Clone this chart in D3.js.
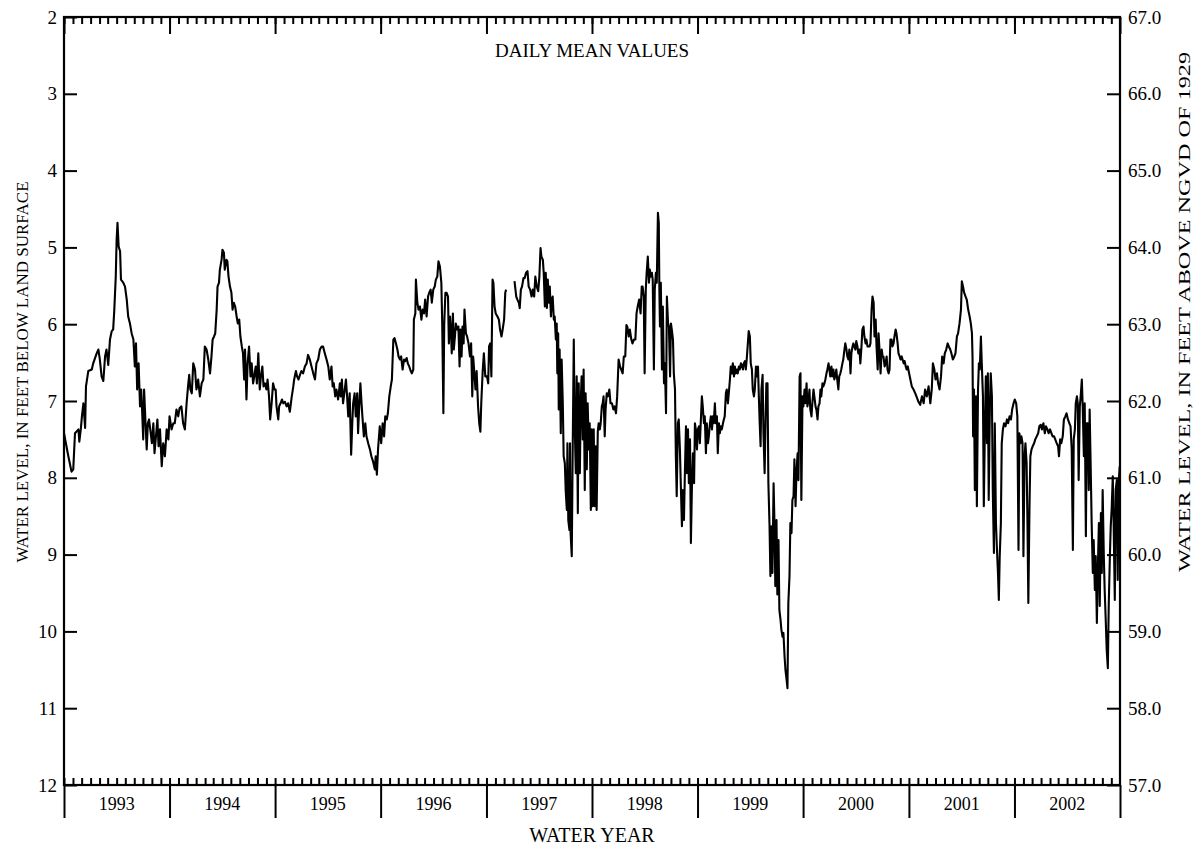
<!DOCTYPE html>
<html>
<head>
<meta charset="utf-8">
<script src="https://cdn.jsdelivr.net/npm/d3@7"></script>
<style>
  body { margin: 0; background: #fff; }
  svg { display: block; }
  text { font-family: "Liberation Serif", "Times New Roman", serif; fill: #000; }
</style>
</head>
<body>
<svg id="chart" width="1196" height="849"></svg>
<script>
// Water years shown on the horizontal axis (each runs Oct 1 - Sep 30)
const waterYears = [1993, 1994, 1995, 1996, 1997, 1998, 1999, 2000, 2001, 2002];
// Depth to water, feet below land surface (left axis)
const depthTicks = [2, 3, 4, 5, 6, 7, 8, 9, 10, 11, 12];
// Altitude of water level, feet above NGVD of 1929 (right axis)
const altitudeTicks = [67, 66, 65, 64, 63, 62, 61, 60, 59, 58, 57];
const landSurfaceAltitude = 69.0;

// Daily mean depth to water: [day of water year, feet below land surface]
// null marks a break in the record
const wy1993 = [[0,7.42],[15,7.72],[26,7.92],[32,7.89],[38,7.42],[50,7.37],[53,7.53],[58,7.37],[62,7.20],[67,7.03],[73,7.35],[76,6.81],[84,6.61],[96,6.59],[101,6.51],[113,6.38],[119,6.33],[124,6.46],[130,6.68],[136,6.74],[142,6.42],[147,6.33],[153,6.53],[159,6.20],[165,6.09],[170,6.07],[174,5.81],[179,5.38],[182,4.90],[185,4.68],[189,4.99],[194,5.05],[197,5.42],[205,5.46],[211,5.51],[217,5.68],[222,5.90],[228,5.99],[234,6.12],[240,6.20],[245,6.55],[249,6.25],[253,6.85],[258,6.51],[263,7.07],[267,6.85],[270,7.11],[274,7.50],[277,6.85],[282,7.29],[286,7.63],[290,7.29],[294,7.24],[300,7.42],[304,7.55],[309,7.29],[313,7.68],[318,7.46],[323,7.24],[327,7.59],[332,7.37],[338,7.85],[343,7.55],[349,7.72],[355,7.37],[361,7.50]];
const wy1994 = [[0,7.20],[7,7.37],[13,7.29],[18,7.29],[24,7.11],[30,7.20],[35,7.09],[41,7.07],[47,7.29],[53,7.37],[59,7.03],[64,6.81],[68,6.66],[72,6.85],[77,6.90],[82,6.51],[88,6.59],[93,6.85],[99,6.72],[105,6.94],[111,6.77],[117,6.72],[122,6.29],[128,6.33],[134,6.46],[140,6.64],[145,6.42],[149,6.20],[154,6.16],[158,6.12],[163,5.81],[166,5.51],[171,5.46],[174,5.29],[180,5.16],[183,5.03],[188,5.07],[191,5.29],[197,5.16],[200,5.18],[204,5.38],[209,5.51],[214,5.59],[218,5.81],[222,5.72],[227,5.77],[232,5.90],[236,5.99],[241,5.94],[245,6.16],[250,6.29],[254,6.38],[258,6.72],[261,6.33],[266,6.98],[270,6.51],[275,6.29],[280,6.68],[284,6.51],[289,6.77],[293,6.68],[298,6.55],[302,6.77],[307,6.38],[312,6.85],[316,6.68],[321,6.55],[325,6.81],[330,6.77],[335,6.85],[339,6.72],[344,6.94],[348,7.24],[353,7.03],[358,6.77],[363,6.85]];
const wy1995 = [[2,6.85],[5,7.07],[11,7.24],[14,7.07],[19,7.03],[24,6.98],[28,7.03],[34,7.01],[40,7.07],[45,7.03],[51,7.14],[57,6.96],[63,6.81],[66,6.72],[72,6.61],[76,6.68],[81,6.72],[86,6.66],[91,6.61],[97,6.64],[103,6.55],[109,6.51],[114,6.40],[120,6.46],[126,6.55],[132,6.64],[138,6.72],[143,6.51],[149,6.46],[155,6.33],[161,6.29],[166,6.29],[172,6.38],[178,6.46],[184,6.55],[189,6.72],[195,6.55],[199,6.81],[203,6.77],[208,6.94],[212,6.85],[218,6.98],[224,6.77],[227,6.94],[231,6.72],[235,7.03],[241,6.85],[245,6.72],[249,6.94],[253,7.20],[258,6.90],[263,7.70],[267,7.29],[270,7.03],[275,6.90],[279,7.20],[284,6.90],[287,7.42],[291,7.07],[295,6.77],[299,7.03],[302,7.20],[307,7.46],[312,7.29],[316,7.46],[322,7.55],[328,7.63],[333,7.72],[339,7.79],[345,7.89],[348,7.72],[352,7.96],[356,7.63],[362,7.33]];
const wy1996 = [[2,7.55],[7,7.29],[12,7.46],[16,7.20],[21,7.24],[25,7.16],[30,6.94],[35,6.81],[39,6.72],[44,6.20],[48,6.18],[53,6.25],[58,6.33],[62,6.42],[67,6.46],[71,6.42],[76,6.59],[81,6.46],[85,6.48],[90,6.44],[94,6.51],[99,6.55],[104,6.61],[108,6.64],[113,6.59],[115,5.94],[120,5.86],[122,5.42],[127,5.72],[131,5.81],[136,5.77],[141,5.94],[145,5.81],[150,5.86],[154,5.68],[159,5.90],[164,5.64],[168,5.59],[173,5.55],[177,5.72],[182,5.55],[187,5.51],[191,5.42],[196,5.38],[200,5.18],[205,5.25],[210,5.46],[213,5.99],[217,7.16],[220,5.99],[224,5.59],[228,5.59],[233,5.64],[236,6.25],[240,5.90],[243,6.07],[246,6.38],[250,5.86],[253,6.33],[257,6.16],[260,5.99],[265,6.07],[269,6.03],[273,6.55],[276,6.07],[280,6.42],[283,6.03],[287,6.25],[290,5.81],[295,6.12],[299,6.16],[304,6.25],[309,6.42],[313,6.25],[317,6.94],[320,6.42],[325,6.68],[328,6.85],[332,6.61],[337,7.07],[341,7.29],[345,7.40],[348,7.03],[353,6.61],[357,6.38],[362,6.68]];
const wy1997 = [[2,6.68],[6,6.77],[9,6.29],[13,6.25],[17,6.68],[21,5.42],[24,5.46],[28,5.77],[32,5.86],[38,5.90],[43,5.94],[47,6.07],[52,6.16],[56,6.07],[61,5.94],[65,5.59],[68,5.55],[82,null],[97,5.44],[103,5.64],[107,5.68],[112,5.72],[115,5.79],[119,5.55],[123,5.51],[128,5.40],[132,5.40],[137,5.33],[142,5.31],[146,5.51],[151,5.55],[156,5.64],[160,5.55],[165,5.64],[169,5.38],[174,5.51],[179,5.57],[183,5.38],[187,5.01],[190,5.12],[195,5.16],[198,5.33],[202,5.77],[205,5.33],[209,5.79],[212,5.42],[216,5.72],[219,5.51],[223,5.90],[226,5.68],[229,5.64],[233,5.94],[236,5.90],[240,6.20],[243,5.99],[245,6.64],[248,6.12],[250,7.11],[253,6.33],[257,7.42],[260,6.46],[264,7.03],[267,7.72],[271,7.81],[274,8.16],[278,8.42],[280,7.55],[283,8.55],[287,8.68],[289,7.55],[291,8.72],[295,9.02],[298,7.72],[302,6.20],[305,7.29],[309,7.94],[312,6.68],[316,8.46],[319,6.77],[323,7.94],[326,7.03],[329,6.68],[333,7.50],[336,6.59],[340,8.16],[343,6.90],[347,7.89],[350,7.03],[354,7.63],[357,7.29],[361,8.42],[364,7.37]];
const wy1998 = [[2,8.37],[6,7.37],[9,8.37],[13,7.59],[16,8.42],[20,7.40],[23,7.29],[27,7.37],[30,7.29],[34,7.07],[37,7.03],[40,6.94],[44,7.46],[47,7.11],[51,6.90],[55,6.94],[60,6.85],[64,7.03],[69,7.03],[74,7.11],[78,7.07],[83,7.16],[87,6.94],[92,6.46],[97,6.55],[101,6.59],[106,6.64],[110,6.42],[115,6.42],[119,6.01],[122,6.03],[127,6.16],[131,6.07],[136,6.20],[140,6.25],[145,6.20],[150,6.20],[154,5.86],[158,5.77],[163,5.68],[168,5.86],[172,5.51],[175,5.51],[179,5.64],[182,6.64],[186,5.55],[189,5.33],[193,5.12],[197,5.46],[200,5.29],[203,5.38],[207,5.33],[210,5.42],[214,6.59],[217,5.55],[221,5.33],[224,5.46],[228,4.55],[231,4.68],[233,5.55],[235,6.03],[238,5.46],[242,6.59],[245,5.77],[249,6.77],[252,6.51],[256,7.16],[259,5.64],[263,5.99],[266,6.03],[270,6.68],[273,5.99],[276,6.07],[280,6.20],[283,6.64],[287,6.85],[290,7.72],[293,8.24],[297,7.29],[300,7.24],[304,7.63],[307,8.07],[311,8.63],[314,8.16],[318,8.55],[321,7.98],[325,7.33],[328,7.94],[332,7.37],[335,8.07],[339,7.50],[342,8.85],[346,8.03],[349,7.68],[353,8.07],[356,7.29],[359,7.37],[363,7.63]];
const wy1999 = [[1,7.37],[5,7.33],[8,7.55],[12,7.20],[15,6.94],[18,7.07],[22,7.29],[25,7.20],[29,7.68],[32,7.29],[36,7.55],[39,7.46],[43,7.29],[46,7.20],[50,7.37],[53,7.20],[56,7.29],[60,7.03],[63,7.29],[67,7.20],[70,7.68],[74,7.29],[77,7.42],[81,7.33],[84,7.37],[88,7.29],[91,7.24],[94,7.20],[98,6.90],[101,6.85],[105,7.03],[108,6.90],[112,6.72],[115,6.55],[119,6.64],[122,6.51],[126,6.68],[129,6.55],[132,6.64],[136,6.59],[139,6.64],[143,6.55],[146,6.59],[150,6.51],[153,6.53],[157,6.59],[160,6.51],[164,6.48],[167,6.59],[170,6.46],[174,6.25],[177,6.09],[181,6.16],[184,6.51],[188,6.59],[191,6.85],[195,6.94],[198,6.85],[202,6.55],[205,6.68],[209,6.55],[212,6.94],[215,7.29],[218,7.59],[221,6.85],[225,6.66],[228,7.42],[232,7.94],[235,7.29],[238,6.77],[242,6.77],[245,8.07],[249,8.63],[252,9.28],[255,8.63],[259,9.24],[263,8.07],[266,8.59],[269,9.41],[273,8.55],[276,9.52],[280,8.81],[283,9.72],[287,9.85],[290,9.98],[294,10.07],[297,10.02],[301,10.33],[304,10.50],[308,10.63],[311,10.74],[314,9.63],[318,9.28],[321,8.59],[325,8.72],[328,8.29],[332,8.24],[335,7.76],[339,8.37],[342,7.94],[346,7.68],[349,8.03],[353,6.68],[356,6.64],[359,8.29],[363,6.94]];
const wy2000 = [[1,7.07],[5,6.85],[8,7.03],[12,6.77],[15,7.07],[19,6.98],[22,6.85],[25,7.11],[29,7.20],[32,7.03],[36,6.85],[39,6.94],[43,7.07],[46,7.11],[50,7.24],[53,7.07],[57,7.03],[60,6.85],[63,6.94],[67,6.77],[70,6.81],[74,6.77],[77,6.72],[81,6.64],[84,6.59],[88,6.51],[91,6.59],[94,6.68],[98,6.55],[101,6.68],[105,6.59],[108,6.72],[112,6.66],[115,6.59],[118,6.72],[122,6.85],[125,6.68],[129,6.64],[132,6.59],[136,6.51],[139,6.46],[143,6.33],[146,6.25],[150,6.33],[153,6.42],[157,6.46],[160,6.33],[164,6.64],[167,6.38],[171,6.29],[174,6.25],[177,6.29],[181,6.33],[184,6.22],[188,6.29],[191,6.38],[195,6.33],[198,6.51],[202,6.29],[205,6.07],[209,6.03],[212,6.16],[216,6.25],[219,6.20],[223,6.29],[226,6.29],[230,6.29],[233,6.25],[237,5.81],[240,5.64],[244,5.72],[247,6.16],[251,5.94],[254,6.29],[258,6.59],[261,6.12],[265,6.38],[268,6.64],[272,6.33],[275,6.42],[278,6.42],[282,6.55],[285,6.51],[289,6.42],[292,6.59],[296,6.64],[299,6.59],[302,6.20],[306,6.20],[309,6.29],[313,6.25],[316,6.16],[320,6.07],[323,6.12],[327,6.25],[330,6.38],[334,6.42],[337,6.46],[341,6.42],[344,6.46],[348,6.51],[351,6.48],[355,6.55],[358,6.59],[362,6.55]];
const wy2001 = [[5,6.72],[10,6.81],[16,6.85],[22,6.90],[28,6.96],[33,7.01],[39,7.05],[45,6.94],[51,7.03],[56,6.85],[62,6.94],[68,6.81],[74,7.03],[79,6.85],[83,6.51],[88,6.59],[92,6.72],[97,6.64],[101,6.77],[106,6.85],[111,6.68],[115,6.42],[120,6.51],[124,6.38],[129,6.33],[134,6.25],[138,6.29],[143,6.33],[147,6.38],[152,6.46],[157,6.42],[161,6.38],[166,6.16],[170,6.12],[175,5.99],[180,5.81],[183,5.44],[187,5.51],[191,5.59],[196,5.64],[200,5.68],[205,5.81],[210,5.90],[214,5.99],[218,6.12],[220,6.42],[222,7.46],[225,6.85],[228,8.16],[232,6.94],[235,8.37],[239,6.85],[242,6.51],[245,6.59],[249,6.16],[252,6.51],[256,6.94],[259,8.37],[263,7.29],[266,6.68],[270,7.55],[273,6.64],[276,8.29],[280,7.07],[283,6.64],[287,6.94],[290,8.16],[294,8.98],[297,7.29],[301,8.59],[304,8.89],[308,9.24],[311,9.59],[314,9.02],[318,8.59],[321,7.55],[325,7.37],[329,7.29],[334,7.33],[339,7.24],[343,7.29],[348,7.20],[353,7.24],[357,7.11],[362,7.03]];
const wy2002 = [[1,6.98],[6,7.03],[10,7.20],[14,8.94],[17,7.42],[21,7.55],[24,7.46],[28,7.55],[31,9.02],[35,7.72],[38,7.55],[42,7.81],[45,8.59],[48,9.63],[52,8.37],[55,7.72],[59,7.63],[63,7.59],[68,7.55],[72,7.50],[77,7.46],[82,7.42],[86,7.33],[91,7.31],[95,7.37],[100,7.29],[105,7.42],[109,7.33],[114,7.37],[118,7.42],[123,7.37],[128,7.42],[132,7.46],[137,7.46],[141,7.50],[146,7.55],[151,7.59],[154,7.72],[158,7.50],[162,7.55],[167,7.46],[171,7.24],[176,7.20],[180,7.16],[185,7.24],[190,7.29],[194,7.33],[198,7.63],[202,8.94],[205,7.50],[209,7.37],[212,7.03],[216,6.94],[219,7.03],[222,8.03],[226,7.07],[229,6.94],[233,6.72],[236,7.07],[240,7.72],[243,7.03],[247,8.76],[250,7.29],[254,7.29],[257,8.16],[260,7.11],[264,7.94],[267,8.59],[271,9.24],[274,8.81],[278,9.46],[281,9.02],[285,9.89],[288,9.24],[292,8.59],[295,9.67],[299,8.46],[302,9.24],[305,8.16],[309,9.02],[312,9.46],[316,9.89],[319,10.24],[323,10.48],[326,9.67],[330,9.02],[333,8.63],[336,8.42],[340,7.98],[343,8.59],[347,9.59],[350,8.16],[354,8.03],[357,9.33],[361,8.03],[364,7.85]];

const seriesByYear = [wy1993, wy1994, wy1995, wy1996, wy1997, wy1998, wy1999, wy2000, wy2001, wy2002];

const svg = d3.select("#chart");
const plot = { left: 64, right: 1120, top: 17, bottom: 785 };

const wyStart = yr => new Date(Date.UTC(yr - 1, 9, 1));
const dayMs = 86400000;

// Flatten to dated records
const records = [];
seriesByYear.forEach((rows, i) => {
  const start = wyStart(waterYears[i]).getTime();
  rows.forEach(([d, v]) => records.push({ date: new Date(start + d * dayMs), depth: v }));
});

const x = d3.scaleUtc()
  .domain([wyStart(waterYears[0]), wyStart(waterYears[waterYears.length - 1] + 1)])
  .range([plot.left, plot.right]);
const y = d3.scaleLinear().domain([2, 12]).range([plot.top, plot.bottom]);
const yAlt = d3.scaleLinear()
  .domain([landSurfaceAltitude - 2, landSurfaceAltitude - 12])
  .range([plot.top, plot.bottom]);

const yearEdges = d3.range(waterYears[0], waterYears[waterYears.length - 1] + 2).map(wyStart);
const months = d3.utcMonth.range(x.domain()[0], x.domain()[1]);
const tickStroke = 2;
const labelSize = "19px";

function styleAxis(g) {
  g.select(".domain").remove();
  g.selectAll(".tick line").attr("stroke", "#000").attr("stroke-width", tickStroke);
  g.selectAll(".tick text").style("font-size", labelSize).attr("fill", "#000");
}

// Monthly minor ticks, top and bottom, pointing into the plot
svg.append("g").attr("transform", `translate(0,${plot.bottom})`)
  .call(d3.axisBottom(x).tickValues(months).tickSize(-7).tickFormat(""))
  .call(styleAxis);
svg.append("g").attr("transform", `translate(0,${plot.top})`)
  .call(d3.axisTop(x).tickValues(months).tickSize(-7).tickFormat(""))
  .call(styleAxis);

// Water-year boundaries
svg.append("g").attr("transform", `translate(0,${plot.bottom})`)
  .call(d3.axisBottom(x).tickValues(yearEdges).tickSize(33).tickFormat(""))
  .call(styleAxis);
svg.append("g").attr("transform", `translate(0,${plot.top})`)
  .call(d3.axisTop(x).tickValues(yearEdges).tickSize(-17).tickFormat(""))
  .call(styleAxis);

// Water-year labels centred in each year
svg.append("g").selectAll("text").data(waterYears).join("text")
  .attr("x", d => (x(wyStart(d)) + x(wyStart(d + 1))) / 2)
  .attr("y", plot.bottom + 25)
  .attr("text-anchor", "middle")
  .style("font-size", "18px")
  .text(d => d);

// Left axis: depth below land surface
svg.append("g").attr("transform", `translate(${plot.left},0)`)
  .call(d3.axisLeft(y).tickValues(depthTicks).tickSize(-13).tickPadding(7).tickFormat(d3.format("d")))
  .call(styleAxis);

// Right axis: altitude above NGVD 1929
svg.append("g").attr("transform", `translate(${plot.right},0)`)
  .call(d3.axisRight(yAlt).tickValues(altitudeTicks).tickSize(-13).tickPadding(8).tickFormat(d3.format(".1f")))
  .call(styleAxis);

// Hydrograph
const line = d3.line()
  .defined(d => d.depth != null)
  .x(d => x(d.date))
  .y(d => y(d.depth));
svg.append("path")
  .datum(records)
  .attr("fill", "none")
  .attr("stroke", "#000")
  .attr("stroke-width", 2.1)
  .attr("stroke-linejoin", "round")
  .attr("d", line);

// Plot frame
svg.append("rect")
  .attr("x", plot.left).attr("y", plot.top)
  .attr("width", plot.right - plot.left).attr("height", plot.bottom - plot.top)
  .attr("fill", "none").attr("stroke", "#000").attr("stroke-width", 2.2);

// Titles
svg.append("text").attr("x", (plot.left + plot.right) / 2).attr("y", 57)
  .attr("text-anchor", "middle").style("font-size", "19px").text("DAILY MEAN VALUES");
svg.append("text").attr("x", (plot.left + plot.right) / 2).attr("y", 842)
  .attr("text-anchor", "middle").style("font-size", "20px").text("WATER YEAR");
svg.append("text").attr("transform", "translate(28,372) rotate(-90)")
  .attr("text-anchor", "middle").style("font-size", "17px")
  .text("WATER LEVEL, IN FEET BELOW LAND SURFACE");
svg.append("text").attr("transform", "translate(1190,312) rotate(-90)")
  .attr("text-anchor", "middle").style("font-size", "16px")
  .attr("textLength", 520).attr("lengthAdjust", "spacingAndGlyphs")
  .text("WATER LEVEL, IN FEET ABOVE NGVD OF 1929");
</script>
</body>
</html>
